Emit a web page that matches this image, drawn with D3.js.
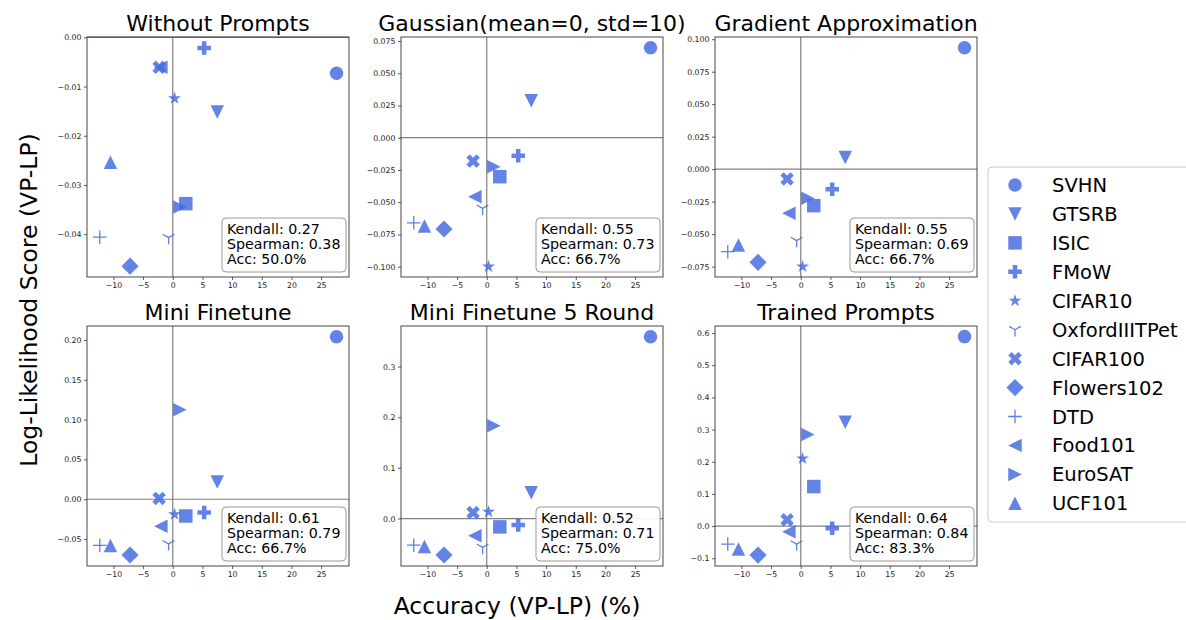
<!DOCTYPE html>
<html>
<head>
<meta charset="utf-8">
<script src="https://cdn.jsdelivr.net/npm/d3@7"></script>
<style>
  body { margin: 0; background: #fff; }
  text { font-family: "DejaVu Sans", sans-serif; }
</style>
</head>
<body>
<svg id="chart"></svg>
<script>
// Chart data
const datasets = ["SVHN", "GTSRB", "ISIC", "FMoW", "CIFAR10", "OxfordIIITPet",
  "CIFAR100", "Flowers102", "DTD", "Food101", "EuroSAT", "UCF101"];
const markers = ["o", "v", "s", "P", "*", "1", "X", "D", "+", "<", ">", "^"];

// x: accuracy difference (VP-LP) in %, same for every panel
const accuracy = [27.6, 7.5, 2.2, 5.3, 0.3, -0.7, -2.3, -7.2, -12.3, -2.0, 1.2, -10.5];

const panelTitles = ["Without Prompts", "Gaussian(mean=0, std=10)", "Gradient Approximation",
  "Mini Finetune", "Mini Finetune 5 Round", "Trained Prompts"];

// y: log-likelihood score (VP-LP), one array per panel
const withoutPrompts = [-0.0073, -0.0152, -0.0338, -0.0022, -0.0124, -0.0407, -0.0061, -0.0465, -0.0406, -0.0061, -0.0345, -0.0254];
const gaussian = [0.0698, 0.0287, -0.0302, -0.0140, -0.1000, -0.0548, -0.0181, -0.0708, -0.0660, -0.0458, -0.0225, -0.0685];
const gradientApprox = [0.0935, 0.0089, -0.0281, -0.0155, -0.0750, -0.0550, -0.0075, -0.0717, -0.0635, -0.0340, -0.0224, -0.0584];
const miniFinetune = [0.204, 0.0217, -0.021, -0.0167, -0.019, -0.056, 0.001, -0.070, -0.058, -0.034, 0.1125, -0.058];
const miniFinetune5 = [0.3587, 0.051, -0.0165, -0.013, 0.013, -0.057, 0.0118, -0.072, -0.0525, -0.034, 0.1833, -0.055];
const trainedPrompts = [0.589, 0.323, 0.123, -0.007, 0.21, -0.056, 0.0195, -0.09, -0.056, -0.0175, 0.285, -0.071];

const kendall = ["0.27", "0.55", "0.55", "0.61", "0.52", "0.64"];
const spearman = ["0.38", "0.73", "0.69", "0.79", "0.71", "0.84"];
const acc = ["50.0%", "66.7%", "66.7%", "66.7%", "75.0%", "83.3%"];

const xTicks = [-10, -5, 0, 5, 10, 15, 20, 25];
const yTicksList = [
  [0.00, -0.01, -0.02, -0.03, -0.04],
  [0.075, 0.050, 0.025, 0.000, -0.025, -0.050, -0.075, -0.100],
  [0.100, 0.075, 0.050, 0.025, 0.000, -0.025, -0.050, -0.075],
  [0.20, 0.15, 0.10, 0.05, 0.00, -0.05],
  [0.3, 0.2, 0.1, 0.0],
  [0.6, 0.5, 0.4, 0.3, 0.2, 0.1, 0.0, -0.1]
];
const yFormats = [".2f", ".3f", ".3f", ".2f", ".1f", ".1f"];
const yDomains = [[-0.0487, 0.00006], [-0.108, 0.0781], [-0.083, 0.1017],
  [-0.0838, 0.2175], [-0.0937, 0.38], [-0.124, 0.622]];
const scores = [withoutPrompts, gaussian, gradientApprox, miniFinetune, miniFinetune5, trainedPrompts];

// Layout
const width = 1186;
const height = 620;
const panelW = 262;
const panelH = 240;
const lefts = [87, 401, 715];
const tops = [37, 326];
const color = "#4169e1";
const markerSize = 13.5;

const svg = d3.select("#chart").attr("width", width).attr("height", height);
svg.append("rect").attr("width", width).attr("height", height).attr("fill", "#fff");

function markerPath(type, s) {
  const h = s / 2;
  const pts = (arr, k) => "M" + arr.map(p => [p[0] * k, p[1] * k].join(",")).join("L") + "Z";
  switch (type) {
    case "o": return `M${h},0A${h},${h} 0 1,1 ${-h},0A${h},${h} 0 1,1 ${h},0Z`;
    case "v": return pts([[0, 1], [-1, -1], [1, -1]], h);
    case "^": return pts([[0, -1], [-1, 1], [1, 1]], h);
    case "<": return pts([[-1, 0], [1, -1], [1, 1]], h);
    case ">": return pts([[1, 0], [-1, -1], [-1, 1]], h);
    case "s": return pts([[-1, -1], [1, -1], [1, 1], [-1, 1]], h);
    case "D": return pts([[0, -1], [1, 0], [0, 1], [-1, 0]], h * Math.SQRT2 * 0.9);
    case "P": return pts([[-1, -3], [1, -3], [1, -1], [3, -1], [3, 1], [1, 1], [1, 3], [-1, 3],
      [-1, 1], [-3, 1], [-3, -1], [-1, -1]], s / 6);
    case "X": return pts([[-1, -2], [0, -1], [1, -2], [2, -1], [1, 0], [2, 1], [1, 2], [0, 1],
      [-1, 2], [-2, 1], [-1, 0], [-2, -1]], s / 4);
    case "*": {
      const p = [];
      for (let i = 0; i < 10; i++) {
        const r = i % 2 === 0 ? h : h * 0.381966;
        const a = -Math.PI / 2 + i * Math.PI / 5;
        p.push([r * Math.cos(a), r * Math.sin(a)]);
      }
      return pts(p, 1);
    }
    case "1": return `M0,0L0,${h}M0,0L${0.866 * h},${-0.5 * h}M0,0L${-0.866 * h},${-0.5 * h}`;
    case "+": return `M${-h},0L${h},0M0,${-h}L0,${h}`;
  }
}
const lineMarker = t => t === "1" || t === "+";

function drawMarker(g, type, x, y) {
  const p = g.append("path")
    .attr("d", markerPath(type, markerSize))
    .attr("transform", `translate(${x},${y})`);
  if (lineMarker(type)) {
    p.attr("fill", "none").attr("stroke", color).attr("stroke-width", 1.3).attr("stroke-opacity", 0.85);
  } else {
    p.attr("fill", color).attr("fill-opacity", 0.82);
  }
}

const x = d3.scaleLinear().domain([-14.45, 29.7]).range([0, panelW]);

scores.forEach((vals, k) => {
  const col = k % 3;
  const row = Math.floor(k / 3);
  const g = svg.append("g").attr("transform", `translate(${lefts[col]},${tops[row]})`);
  const y = d3.scaleLinear().domain(yDomains[k]).range([panelH, 0]);

  // zero lines
  g.append("line").attr("x1", x(0)).attr("x2", x(0)).attr("y1", 0).attr("y2", panelH)
    .attr("stroke", "#808080").attr("stroke-width", 1.2);
  g.append("line").attr("x1", 0).attr("x2", panelW).attr("y1", y(0)).attr("y2", y(0))
    .attr("stroke", "#808080").attr("stroke-width", 1.2);

  // points
  vals.forEach((v, i) => drawMarker(g, markers[i], x(accuracy[i]), y(v)));

  // axes
  const xAxis = g.append("g").attr("transform", `translate(0,${panelH})`)
    .call(d3.axisBottom(x).tickValues(xTicks).tickSize(3).tickPadding(2.5).tickFormat(d3.format("d")));
  const yAxis = g.append("g")
    .call(d3.axisLeft(y).tickValues(yTicksList[k]).tickSize(3).tickPadding(2.5).tickFormat(d3.format(yFormats[k])));
  [xAxis, yAxis].forEach(a => {
    a.select(".domain").remove();
    a.selectAll("line").attr("stroke", "#333").attr("stroke-width", 0.8);
    a.selectAll("text").attr("font-size", "7.8px").attr("fill", "#222")
      .attr("font-family", "'DejaVu Sans', sans-serif");
  });

  // spines
  g.append("rect").attr("width", panelW).attr("height", panelH)
    .attr("fill", "none").attr("stroke", "#333").attr("stroke-width", 0.9);

  // title
  g.append("text").attr("x", panelW / 2).attr("y", -6).attr("text-anchor", "middle")
    .attr("font-size", "22px").attr("fill", "#000").text(panelTitles[k]);

  // stats box
  const lines = [`Kendall: ${kendall[k]}`, `Spearman: ${spearman[k]}`, `Acc: ${acc[k]}`];
  const boxW = 124, boxH = 54;
  const bx = panelW - 3 - boxW, by = panelH - 5 - boxH;
  g.append("rect").attr("x", bx).attr("y", by).attr("width", boxW).attr("height", boxH)
    .attr("rx", 4).attr("fill", "#fff").attr("fill-opacity", 0.9)
    .attr("stroke", "#999").attr("stroke-width", 1);
  lines.forEach((t, j) => {
    g.append("text").attr("x", bx + 5).attr("y", by + 15.5 + j * 15)
      .attr("font-size", "14.2px").attr("fill", "#000").text(t);
  });
});

// axis labels
svg.append("text").attr("transform", "translate(37,300) rotate(-90)")
  .attr("text-anchor", "middle").attr("font-size", "23.5px").text("Log-Likelihood Score (VP-LP)");
svg.append("text").attr("x", 517).attr("y", 614)
  .attr("text-anchor", "middle").attr("font-size", "23.5px").text("Accuracy (VP-LP) (%)");

// legend
const legend = svg.append("g");
legend.append("rect").attr("x", 988).attr("y", 167).attr("width", 230).attr("height", 355)
  .attr("rx", 4).attr("fill", "#fff").attr("stroke", "#ccc").attr("stroke-width", 1);
datasets.forEach((name, i) => {
  const cy = 185 + i * 28.94;
  drawMarker(legend, markers[i], 1015, cy);
  legend.append("text").attr("x", 1052).attr("y", cy).attr("dy", "0.36em")
    .attr("font-size", "19.5px").attr("fill", "#000").text(name);
});
</script>
</body>
</html>
